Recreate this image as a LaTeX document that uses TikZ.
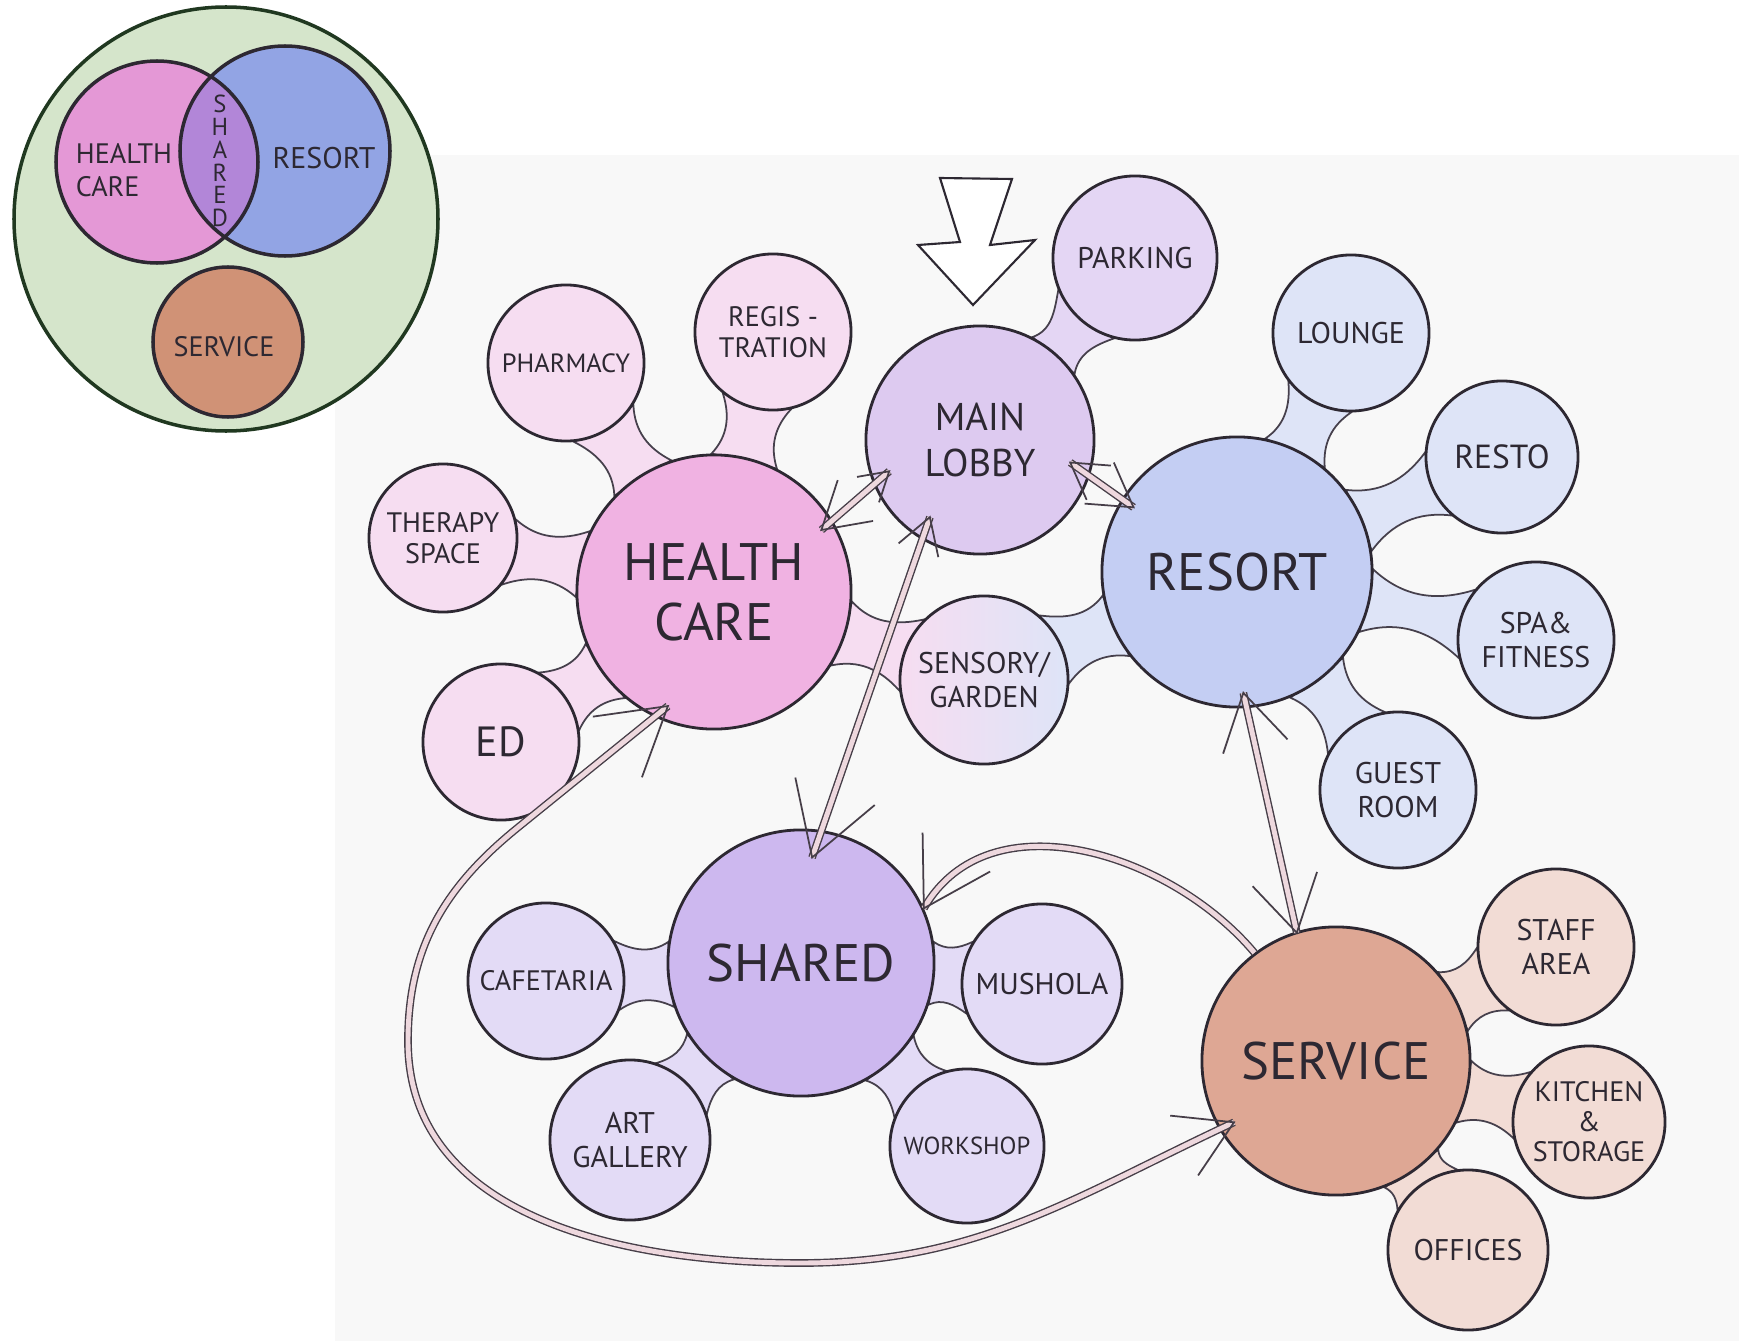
\documentclass[tikz,border=0pt]{standalone}
\usepackage{fontspec}
\setmainfont{PT Sans}
\usepackage{tikz}
\usetikzlibrary{calc, backgrounds, decorations.markings}
\definecolor{inkline}{RGB}{45,40,50}
\definecolor{necklinecol}{RGB}{70,64,76}
\definecolor{panelgray}{RGB}{248,248,248}
\definecolor{hchub}{RGB}{240,178,226}
\definecolor{hcsat}{RGB}{246,221,241}
\definecolor{lobbyfill}{RGB}{221,202,240}
\definecolor{lobbysat}{RGB}{228,214,244}
\definecolor{rshub}{RGB}{196,206,243}
\definecolor{rssat}{RGB}{222,228,247}
\definecolor{shhub}{RGB}{205,184,239}
\definecolor{shsat}{RGB}{227,219,246}
\definecolor{svhub}{RGB}{222,167,148}
\definecolor{svsat}{RGB}{242,220,213}
\definecolor{linkgray}{RGB}{70,62,72}
\definecolor{linkfill}{RGB}{238,216,222}
\definecolor{venngreen}{RGB}{213,229,203}
\definecolor{venngreenline}{RGB}{32,56,32}
\definecolor{vennpink}{RGB}{228,152,214}
\definecolor{vennblue}{RGB}{146,164,228}
\definecolor{vennpurple}{RGB}{178,134,216}
\definecolor{vennbrown}{RGB}{208,146,118}

% neck between a hub and one of its rooms: hub, room, fill
\newcommand{\neck}[3]{%
  \path[draw=necklinecol, line width=0.5pt, fill=#3]
    let \p1=($(#2)-(#1)$), \n1={atan2(\y1,\x1)},
        \n2={\n1+14}, \n3={\n1-14}, \n4={\n1+180-26}, \n5={\n1+180+26},
        \n6={\n1-30}, \n7={\n1+180+30}, \n8={\n1+180-30}, \n9={\n1+30}
    in (#1.\n2) to[out=\n6, in=\n7] (#2.\n4) -- (#2.\n5) to[out=\n8, in=\n9] (#1.\n3) -- cycle;
}

\begin{document}
\begin{tikzpicture}[
    x=0.01cm, y=0.01cm,
    font=\fontsize{8.5}{9.5}\selectfont,
    text=inkline,
    bubble_common/.style={circle, draw=inkline, line width=0.8pt, align=center, inner sep=0pt},
    bubble_hub/.style={bubble_common, minimum size=2.68cm, font=\fontsize{15}{17}\selectfont},
    bubble_sat/.style={bubble_common, minimum size=1.56cm},
    venn_ring/.style={draw=inkline, line width=1pt},
    link/.style={draw=linkgray, line width=0.4pt, double=linkfill, double distance=1.4pt},
    barb/.style={draw=linkgray, line width=0.5pt},
    head_start/.style={postaction={decorate, decoration={markings, mark=at position 0 with {\draw[barb] (#1,0.6*#1) -- (0,0) -- (#1,-0.6*#1);}}}},
    head_end/.style={postaction={decorate, decoration={markings, mark=at position 1 with {\draw[barb] (-#1,0.6*#1) -- (0,0) -- (-#1,-0.6*#1);}}}},
    entry/.style={draw=inkline, line width=0.6pt, fill=white, line join=miter}
]
\useasboundingbox (0,0) rectangle (1739,1341);

% Overview (top left)
\coordinate (vennC) at (226,1122);
\coordinate (vennHC) at (157,1179);
\coordinate (vennRS) at (285,1190);
\coordinate (vennSV) at (228,999);
\fill[venngreen] (vennC) circle[radius=212];
\fill[vennpink] (vennHC) circle[radius=101];
\fill[vennblue] (vennRS) circle[radius=105];
\begin{scope}
  \clip (vennHC) circle[radius=101];
  \fill[vennpurple] (vennRS) circle[radius=105];
\end{scope}
\fill[vennbrown] (vennSV) circle[radius=75];
\draw[draw=venngreenline, line width=1pt] (vennC) circle[radius=212];
\draw[venn_ring] (vennHC) circle[radius=101] (vennRS) circle[radius=105] (vennSV) circle[radius=75];
\node[align=left, font=\fontsize{8}{9.5}\selectfont] (vennhclabel) at (124,1171) {HEALTH\\CARE};
\node[font=\fontsize{8.5}{10}\selectfont] (vennrslabel) at (324,1183) {RESORT};
\node[align=center, font=\fontsize{7}{6.5}\selectfont] (vennshlabel) at (220,1180) {S\\H\\A\\R\\E\\D};
\node[font=\fontsize{8}{9.5}\selectfont] (vennsvlabel) at (224,994) {SERVICE};

% Entrance
\draw[entry] (940,1163) -- (1012,1162) -- (990,1096) -- (1035,1101) -- (973,1036) -- (918,1096) -- (960,1099) -- cycle;

% Hubs
\node[bubble_hub, fill=hchub, minimum size=2.74cm] (healthcare) at (714,749) {HEALTH\\CARE};
\node[bubble_hub, fill=lobbyfill, minimum size=2.28cm, font=\fontsize{11}{13}\selectfont] (mainlobby) at (980,901) {MAIN\\LOBBY};
\node[bubble_hub, fill=rshub, minimum size=2.70cm] (resort) at (1237,769) {RESORT};
\node[bubble_hub, fill=shhub, minimum size=2.66cm] (shared) at (801,378) {SHARED};
\node[bubble_hub, fill=svhub] (service) at (1336,280) {SERVICE};

% Rooms
\node[bubble_sat, fill=lobbysat, minimum size=1.64cm] (parking) at (1135,1083) {PARKING};
\node[bubble_sat, fill=hcsat, font=\fontsize{8}{9}\selectfont] (registration) at (773,1009) {REGIS -\\TRATION};
\node[bubble_sat, fill=hcsat, font=\fontsize{7.5}{9}\selectfont] (pharmacy) at (566,978) {PHARMACY};
\node[bubble_sat, fill=hcsat, minimum size=1.48cm, font=\fontsize{8}{9}\selectfont] (therapy) at (443,803) {THERAPY\\SPACE};
\node[bubble_sat, fill=hcsat, font=\fontsize{12}{14}\selectfont] (ed) at (501,599) {ED};
\node[bubble_sat, left color=hcsat, right color=rssat, minimum size=1.68cm] (sensory) at (984,661) {SENSORY/\\GARDEN};
\node[bubble_sat, fill=rssat] (lounge) at (1351,1008) {LOUNGE};
\node[bubble_sat, fill=rssat, font=\fontsize{9.5}{11}\selectfont, minimum size=1.52cm] (resto) at (1502,884) {RESTO};
\node[bubble_sat, fill=rssat] (spa) at (1536,701) {SPA\&\\FITNESS};
\node[bubble_sat, fill=rssat] (guestroom) at (1398,551) {GUEST\\ROOM};
\node[bubble_sat, fill=shsat, font=\fontsize{8}{9}\selectfont] (cafetaria) at (546,360) {CAFETARIA};
\node[bubble_sat, fill=shsat, minimum size=1.6cm] (mushola) at (1042,357) {MUSHOLA};
\node[bubble_sat, fill=shsat, minimum size=1.6cm] (artgallery) at (630,201) {ART\\GALLERY};
\node[bubble_sat, fill=shsat, minimum size=1.54cm, font=\fontsize{7}{8}\selectfont] (workshop) at (967,195) {WORKSHOP};
\node[bubble_sat, fill=svsat] (staffarea) at (1556,394) {STAFF\\AREA};
\node[bubble_sat, fill=svsat, minimum size=1.52cm, font=\fontsize{8}{8.5}\selectfont] (kitchen) at (1589,219) {KITCHEN\\\&\\STORAGE};
\node[bubble_sat, fill=svsat, minimum size=1.6cm] (offices) at (1468,91) {OFFICES};

% Necks and panel behind everything
\begin{scope}[on background layer]
  \fill[white] (0,0) rectangle (1739,1341);
  \fill[panelgray] (335,0) rectangle (1739,1186);
  \neck{mainlobby}{parking}{lobbysat}
  \neck{healthcare}{registration}{hcsat}
  \neck{healthcare}{pharmacy}{hcsat}
  \neck{healthcare}{therapy}{hcsat}
  \neck{healthcare}{ed}{hcsat}
  \neck{healthcare}{sensory}{hcsat}
  \neck{resort}{sensory}{rssat}
  \neck{resort}{lounge}{rssat}
  \neck{resort}{resto}{rssat}
  \neck{resort}{spa}{rssat}
  \neck{resort}{guestroom}{rssat}
  \neck{shared}{cafetaria}{shsat}
  \neck{shared}{mushola}{shsat}
  \neck{shared}{artgallery}{shsat}
  \neck{shared}{workshop}{shsat}
  \neck{service}{staffarea}{svsat}
  \neck{service}{kitchen}{svsat}
  \neck{service}{offices}{svsat}
\end{scope}

% Links (tips reach a little into the circles)
\coordinate (hcTip) at ($(healthcare)+(248:123)$);
\coordinate (loopA) at ($(hcTip)+(219:193)$);
\coordinate (loopW) at (408,300);
\coordinate (loopS) at (800,78);
\draw[link, head_start=45, head_end=28] ($(healthcare)+(30:124)$) -- ($(mainlobby)+(199:96)$);
\draw[link, head_start=35, head_end=42] ($(mainlobby)+(-14:93)$) -- ($(resort)+(148:122)$);
\draw[link, head_start=35, head_end=70] ($(mainlobby)+(237:92)$) -- ($(shared)+(84:106)$);
\draw[link, head_start=55, head_end=55] ($(resort)+(-87:121)$) -- ($(service)+(107:134)$);
\draw[link, head_start=65, head_end=50] (shared.24) to[out=60, in=130] (service.127);
\draw[link, head_start=65, head_end=55] (hcTip) -- (loopA) to[out=219, in=90] (loopW) to[out=-90, in=180] (loopS) to[out=0, in=205] ($(service)+(211:119)$);

\end{tikzpicture}
\end{document}
